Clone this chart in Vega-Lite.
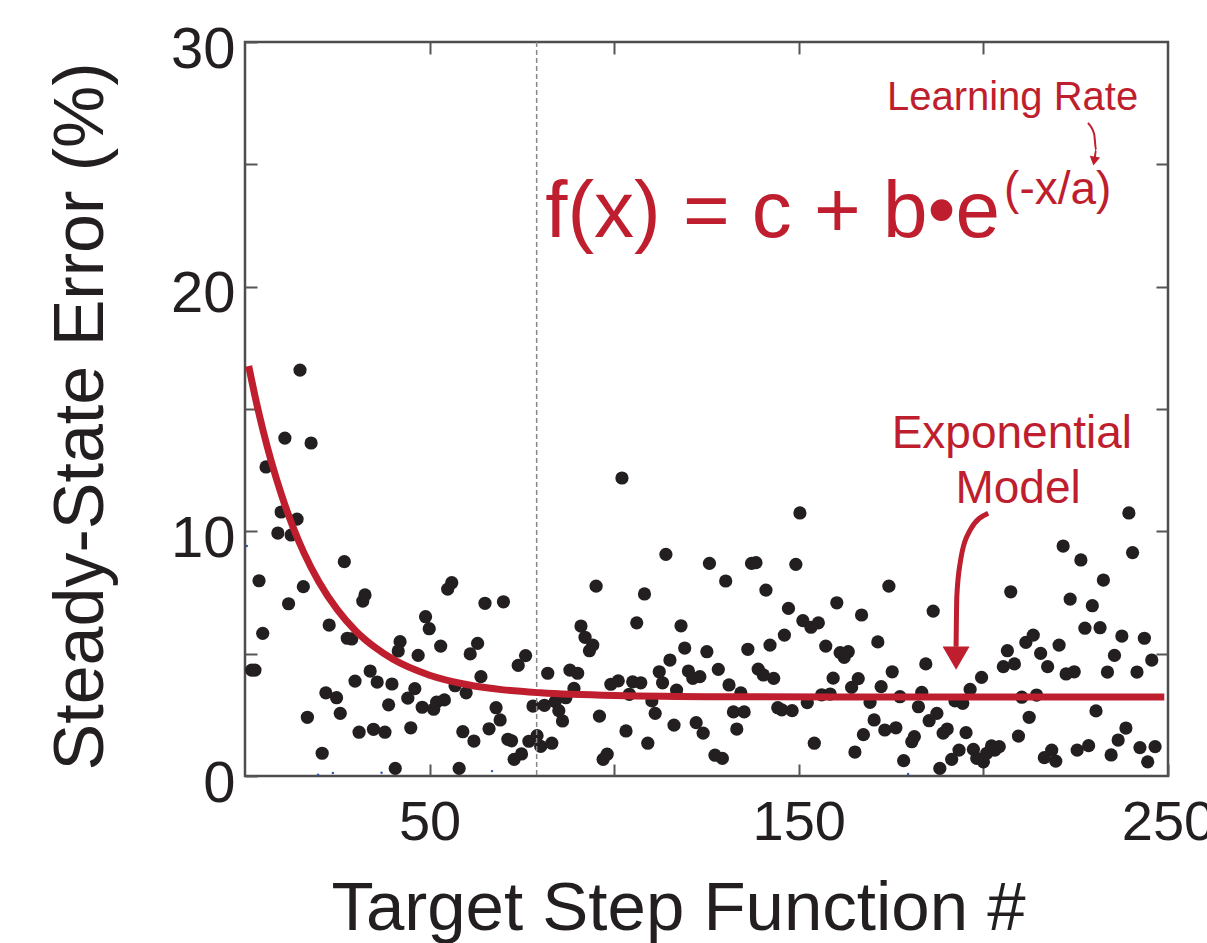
{
  "$schema": "https://vega.github.io/schema/vega-lite/v6.json",
  "width": 923,
  "height": 734,
  "autosize": "none",
  "padding": {"left": 245, "top": 42, "right": 39, "bottom": 167},
  "background": "white",
  "config": {
    "view": {"stroke": "#4d4d4d", "strokeWidth": 2.5},
    "font": "Liberation Sans"
  },
  "datasets": {
    "points": [
      {"x":14.9,"y":16.59},{"x":10.8,"y":13.81},{"x":17.9,"y":13.61},{"x":5.7,"y":12.63},{"x":9.8,"y":10.79},{"x":14.1,"y":10.5},{"x":8.9,"y":9.93},{"x":12.5,"y":9.85},{"x":102.1,"y":12.18},{"x":150.3,"y":10.75},{"x":239.4,"y":10.75},
      {"x":26.9,"y":8.76},{"x":3.8,"y":7.98},{"x":15.8,"y":7.74},{"x":11.8,"y":7.04},{"x":32.5,"y":7.4},{"x":31.9,"y":7.15},{"x":4.8,"y":5.83},{"x":22.8,"y":6.17},{"x":27.7,"y":5.63},{"x":28.9,"y":5.6},{"x":42.0,"y":5.49},{"x":41.5,"y":5.11},{"x":1.8,"y":4.33},{"x":2.7,"y":4.33},{"x":33.9,"y":4.29},{"x":29.8,"y":3.88},{"x":35.8,"y":3.84},{"x":39.8,"y":3.76},{"x":21.9,"y":3.4},{"x":24.8,"y":3.2},{"x":38.9,"y":2.91},{"x":25.8,"y":2.56},{"x":16.9,"y":2.4},{"x":30.9,"y":1.79},{"x":34.8,"y":1.91},{"x":37.9,"y":1.79},{"x":20.9,"y":0.93},{"x":40.7,"y":0.31},
      {"x":56.0,"y":7.9},{"x":54.9,"y":7.64},{"x":65.0,"y":7.06},{"x":70.0,"y":7.12},{"x":48.9,"y":6.51},{"x":49.9,"y":6.02},{"x":53.0,"y":5.31},{"x":46.9,"y":4.93},{"x":63.0,"y":5.42},{"x":61.0,"y":4.99},{"x":76.0,"y":4.92},{"x":74.0,"y":4.52},{"x":82.0,"y":4.2},{"x":46.0,"y":3.57},{"x":44.1,"y":3.18},{"x":56.9,"y":3.69},{"x":59.9,"y":3.4},{"x":63.9,"y":4.06},{"x":54.0,"y":3.11},{"x":51.9,"y":3.02},{"x":48.0,"y":2.81},{"x":51.1,"y":2.73},{"x":68.0,"y":2.79},{"x":78.0,"y":2.86},{"x":81.1,"y":2.89},{"x":84.0,"y":3.04},{"x":69.1,"y":2.29},{"x":44.9,"y":1.97},{"x":59.0,"y":1.81},{"x":66.1,"y":1.93},{"x":62.0,"y":1.43},{"x":71.2,"y":1.5},{"x":72.2,"y":1.44},{"x":76.9,"y":1.42},{"x":79.1,"y":1.65},{"x":80.1,"y":1.21},{"x":83.1,"y":1.34},{"x":74.9,"y":0.9},{"x":72.9,"y":0.68},{"x":58.0,"y":0.31},
      {"x":114.0,"y":9.06},{"x":125.8,"y":8.69},{"x":95.1,"y":7.76},{"x":108.2,"y":7.44},{"x":91.0,"y":6.13},{"x":106.1,"y":6.26},{"x":118.1,"y":6.14},{"x":92.1,"y":5.67},{"x":94.2,"y":5.35},{"x":93.3,"y":5.12},{"x":119.1,"y":5.23},{"x":125.1,"y":5.08},{"x":115.1,"y":4.74},{"x":88.0,"y":4.33},{"x":90.1,"y":4.2},{"x":112.2,"y":4.26},{"x":113.1,"y":3.81},{"x":120.1,"y":4.29},{"x":121.3,"y":3.99},{"x":123.2,"y":4.06},{"x":99.1,"y":3.75},{"x":101.1,"y":3.89},{"x":105.0,"y":3.85},{"x":107.2,"y":3.81},{"x":89.1,"y":3.58},{"x":116.9,"y":3.51},{"x":104.1,"y":3.34},{"x":86.9,"y":3.2},{"x":110.2,"y":3.07},{"x":85.0,"y":2.67},{"x":86.0,"y":2.25},{"x":96.0,"y":2.45},{"x":111.1,"y":2.56},{"x":116.2,"y":2.08},{"x":122.2,"y":2.18},{"x":124.1,"y":1.75},{"x":103.2,"y":1.84},{"x":109.1,"y":1.34},{"x":98.1,"y":0.89},{"x":97.0,"y":0.68},
      {"x":137.2,"y":8.69},{"x":138.4,"y":8.72},{"x":149.2,"y":8.65},{"x":130.2,"y":7.97},{"x":141.1,"y":7.6},{"x":147.2,"y":6.85},{"x":160.3,"y":7.08},{"x":167.0,"y":6.58},{"x":151.1,"y":6.35},{"x":153.3,"y":6.08},{"x":155.3,"y":6.26},{"x":146.1,"y":5.76},{"x":142.2,"y":5.35},{"x":157.3,"y":5.31},{"x":136.2,"y":5.18},{"x":161.2,"y":5.04},{"x":163.4,"y":5.08},{"x":162.3,"y":4.85},{"x":128.2,"y":4.36},{"x":139.0,"y":4.37},{"x":140.4,"y":4.13},{"x":143.2,"y":3.99},{"x":159.3,"y":4.0},{"x":166.1,"y":3.98},{"x":164.3,"y":3.62},{"x":131.1,"y":3.72},{"x":134.3,"y":3.4},{"x":156.2,"y":3.32},{"x":158.5,"y":3.35},{"x":152.3,"y":3.0},{"x":144.3,"y":2.79},{"x":145.4,"y":2.7},{"x":148.2,"y":2.67},{"x":132.3,"y":2.62},{"x":135.2,"y":2.62},{"x":133.2,"y":1.92},{"x":167.5,"y":1.69},{"x":154.2,"y":1.34},{"x":165.2,"y":0.98},{"x":127.3,"y":0.85},{"x":129.3,"y":0.72},
      {"x":174.4,"y":7.76},{"x":207.4,"y":7.53},{"x":186.4,"y":6.74},{"x":171.4,"y":5.48},{"x":206.5,"y":5.12},{"x":205.4,"y":4.47},{"x":208.4,"y":4.58},{"x":184.4,"y":4.58},{"x":175.3,"y":4.26},{"x":199.5,"y":4.03},{"x":172.3,"y":3.65},{"x":196.4,"y":3.54},{"x":183.3,"y":3.42},{"x":177.4,"y":3.24},{"x":169.3,"y":3.01},{"x":192.3,"y":3.07},{"x":194.4,"y":2.97},{"x":182.4,"y":2.83},{"x":187.4,"y":2.56},{"x":185.3,"y":2.26},{"x":170.4,"y":2.29},{"x":173.3,"y":1.88},{"x":176.3,"y":1.97},{"x":190.2,"y":1.92},{"x":189.1,"y":1.75},{"x":195.3,"y":1.77},{"x":181.3,"y":1.61},{"x":180.6,"y":1.4},{"x":193.4,"y":1.06},{"x":191.4,"y":0.68},{"x":197.3,"y":1.09},{"x":198.2,"y":0.72},{"x":200.9,"y":0.93},{"x":202.2,"y":1.23},{"x":204.3,"y":1.2},{"x":203.1,"y":1.06},{"x":200.0,"y":0.58},{"x":178.4,"y":0.63},{"x":188.2,"y":0.31},
      {"x":221.6,"y":9.4},{"x":240.4,"y":9.13},{"x":226.4,"y":8.83},{"x":232.5,"y":8.01},{"x":223.5,"y":7.23},{"x":229.5,"y":6.96},{"x":227.5,"y":6.04},{"x":231.6,"y":6.06},{"x":213.5,"y":5.76},{"x":211.5,"y":5.46},{"x":220.5,"y":5.35},{"x":237.5,"y":5.72},{"x":243.6,"y":5.63},{"x":215.5,"y":5.01},{"x":235.5,"y":4.93},{"x":217.4,"y":4.47},{"x":222.4,"y":4.17},{"x":224.6,"y":4.26},{"x":233.6,"y":4.25},{"x":241.6,"y":4.25},{"x":245.6,"y":4.74},{"x":210.4,"y":3.22},{"x":214.4,"y":3.31},{"x":230.5,"y":2.66},{"x":212.4,"y":2.4},{"x":209.5,"y":1.63},{"x":238.6,"y":1.96},{"x":236.5,"y":1.47},{"x":228.5,"y":1.24},{"x":225.4,"y":1.06},{"x":218.5,"y":1.06},{"x":216.5,"y":0.75},{"x":219.6,"y":0.61},{"x":234.6,"y":0.86},{"x":242.4,"y":1.16},{"x":246.5,"y":1.2},{"x":244.5,"y":0.58}
    ],
    "curve": [
      {"x":1,"y":16.76},{"x":3,"y":15.33},{"x":5,"y":14.06},{"x":7,"y":12.92},{"x":10,"y":11.44},{"x":13,"y":10.18},{"x":16,"y":9.11},{"x":20,"y":7.94},{"x":25,"y":6.8},{"x":30,"y":5.93},{"x":35,"y":5.28},{"x":40,"y":4.78},{"x":50,"y":4.12},{"x":60,"y":3.74},{"x":70,"y":3.52},{"x":80,"y":3.4},{"x":100,"y":3.29},{"x":130,"y":3.24},{"x":160,"y":3.23},{"x":200,"y":3.23},{"x":249,"y":3.23}
    ],
    "blue": [
      {"x":0.5,"y":9.4},{"x":19.8,"y":0.05},{"x":23.8,"y":0.12},{"x":37.0,"y":0.13},{"x":66.9,"y":0.2},{"x":179.6,"y":0.08}
    ],
    "bigArrow": [
      {"x":201.3,"y":10.74},{"x":196.4,"y":10.05},{"x":193.7,"y":8.7},{"x":192.8,"y":7.33},{"x":192.6,"y":5.28}
    ],
    "smallArrow": [
      {"x":228.3,"y":26.69},{"x":230.0,"y":26.24},{"x":230.5,"y":25.58},{"x":230.2,"y":25.3}
    ]
  },
  "layer": [
    {
      "data": {"name": "points"},
      "mark": {"type": "circle", "size": 175, "color": "#231f20", "opacity": 1},
      "encoding": {
        "x": {"field": "x", "type": "quantitative",
          "scale": {"domain": [0, 250], "nice": false, "zero": false},
          "axis": {"orient": "bottom", "values": [50, 100, 150, 200, 250],
            "labelExpr": "datum.value % 100 == 50 ? datum.label : ''",
            "domain": false, "grid": false, "tickSize": -12, "tickWidth": 2, "tickColor": "#555555",
            "labelFontSize": 56, "labelFont": "Liberation Sans", "labelColor": "#231f20",
            "labelPadding": 31, "labelFlush": false, "labelOverlap": false,
            "title": "Target Step Function #", "titleFontSize": 69, "titleFont": "Liberation Sans",
            "titleFontWeight": "normal", "titleColor": "#231f20",
            "titleX": 433, "titleY": 153, "titleBaseline": "alphabetic"}},
        "y": {"field": "y", "type": "quantitative",
          "scale": {"domain": [0, 30], "nice": false, "zero": false},
          "axis": {"orient": "left", "values": [0, 5, 10, 15, 20, 25, 30],
            "labelExpr": "datum.value % 10 == 0 ? datum.label : ''",
            "domain": false, "grid": false, "tickSize": -12, "tickWidth": 2, "tickColor": "#555555",
            "labelFontSize": 58, "labelFont": "Liberation Sans", "labelColor": "#231f20",
            "labelPadding": 22, "labelOffset": 8, "labelFlush": false, "labelOverlap": false,
            "title": "Steady-State Error (%)", "titleFontSize": 70, "titleFont": "Liberation Sans",
            "titleFontWeight": "normal", "titleColor": "#231f20",
            "titleX": -143, "titleY": 374, "titleBaseline": "alphabetic", "titleAngle": -90}}
      }
    },
    {
      "data": {"name": "blue"},
      "mark": {"type": "circle", "size": 6, "color": "#3355aa", "opacity": 1},
      "encoding": {
        "x": {"field": "x", "type": "quantitative", "axis": null},
        "y": {"field": "y", "type": "quantitative", "axis": null}
      }
    },
    {
      "data": {"values": [{"x": 79}]},
      "mark": {"type": "rule", "color": "#888888", "strokeWidth": 1.5, "strokeDash": [5, 3]},
      "encoding": {
        "x": {"field": "x", "type": "quantitative", "axis": null}
      }
    },
    {
      "data": {"name": "curve"},
      "mark": {"type": "line", "color": "#be1e2d", "strokeWidth": 7, "interpolate": "monotone", "strokeCap": "butt"},
      "encoding": {
        "x": {"field": "x", "type": "quantitative",
          "axis": {"orient": "top", "values": [50, 100, 150, 200], "labels": false, "title": null,
            "domain": false, "grid": false, "tickSize": -12, "tickWidth": 2, "tickColor": "#555555"}},
        "y": {"field": "y", "type": "quantitative",
          "axis": {"orient": "right", "values": [5, 10, 15, 20, 25], "labels": false, "title": null,
            "domain": false, "grid": false, "tickSize": -12, "tickWidth": 2, "tickColor": "#555555"}}
      }
    },
    {
      "data": {"name": "bigArrow"},
      "mark": {"type": "line", "color": "#be1e2d", "strokeWidth": 5, "interpolate": "monotone"},
      "encoding": {
        "x": {"field": "x", "type": "quantitative", "axis": null},
        "y": {"field": "y", "type": "quantitative", "axis": null},
        "order": {"field": "y", "sort": "descending"}
      }
    },
    {
      "data": {"values": [{"x": 192.6, "y": 4.82}]},
      "mark": {"type": "point", "shape": "triangle-down", "size": 729, "filled": true, "color": "#be1e2d", "opacity": 1},
      "encoding": {
        "x": {"field": "x", "type": "quantitative", "axis": null},
        "y": {"field": "y", "type": "quantitative", "axis": null}
      }
    },
    {
      "data": {"name": "smallArrow"},
      "mark": {"type": "line", "color": "#be1e2d", "strokeWidth": 2, "interpolate": "monotone"},
      "encoding": {
        "x": {"field": "x", "type": "quantitative", "axis": null},
        "y": {"field": "y", "type": "quantitative", "axis": null},
        "order": {"field": "y", "sort": "descending"}
      }
    },
    {
      "data": {"values": [{"x": 230.0, "y": 25.13}]},
      "mark": {"type": "point", "shape": "triangle-down", "size": 110, "filled": true, "color": "#be1e2d", "opacity": 1, "angle": 10},
      "encoding": {
        "x": {"field": "x", "type": "quantitative", "axis": null},
        "y": {"field": "y", "type": "quantitative", "axis": null}
      }
    },
    {
      "data": {"values": [{"x": 81.3, "y": 22.03, "label": "f(x) = c + b•e"}]},
      "mark": {"type": "text", "align": "left", "baseline": "alphabetic", "fontSize": 80, "font": "Liberation Sans", "color": "#be1e2d"},
      "encoding": {
        "x": {"field": "x", "type": "quantitative", "axis": null},
        "y": {"field": "y", "type": "quantitative", "axis": null},
        "text": {"field": "label"}
      }
    },
    {
      "data": {"values": [{"x": 205.6, "y": 23.38, "label": "(-x/a)"}]},
      "mark": {"type": "text", "align": "left", "baseline": "alphabetic", "fontSize": 46, "font": "Liberation Sans", "color": "#be1e2d"},
      "encoding": {
        "x": {"field": "x", "type": "quantitative", "axis": null},
        "y": {"field": "y", "type": "quantitative", "axis": null},
        "text": {"field": "label"}
      }
    },
    {
      "data": {"values": [{"x": 207.9, "y": 27.22, "label": "Learning Rate"}]},
      "mark": {"type": "text", "align": "center", "baseline": "alphabetic", "fontSize": 40, "font": "Liberation Sans", "color": "#be1e2d"},
      "encoding": {
        "x": {"field": "x", "type": "quantitative", "axis": null},
        "y": {"field": "y", "type": "quantitative", "axis": null},
        "text": {"field": "label"}
      }
    },
    {
      "data": {"values": [{"x": 207.7, "y": 13.4, "label": "Exponential"}, {"x": 209.4, "y": 11.16, "label": "Model"}]},
      "mark": {"type": "text", "align": "center", "baseline": "alphabetic", "fontSize": 46, "font": "Liberation Sans", "color": "#be1e2d"},
      "encoding": {
        "x": {"field": "x", "type": "quantitative", "axis": null},
        "y": {"field": "y", "type": "quantitative", "axis": null},
        "text": {"field": "label"}
      }
    }
  ],
  "resolve": {"axis": {"x": "independent", "y": "independent"}}
}
